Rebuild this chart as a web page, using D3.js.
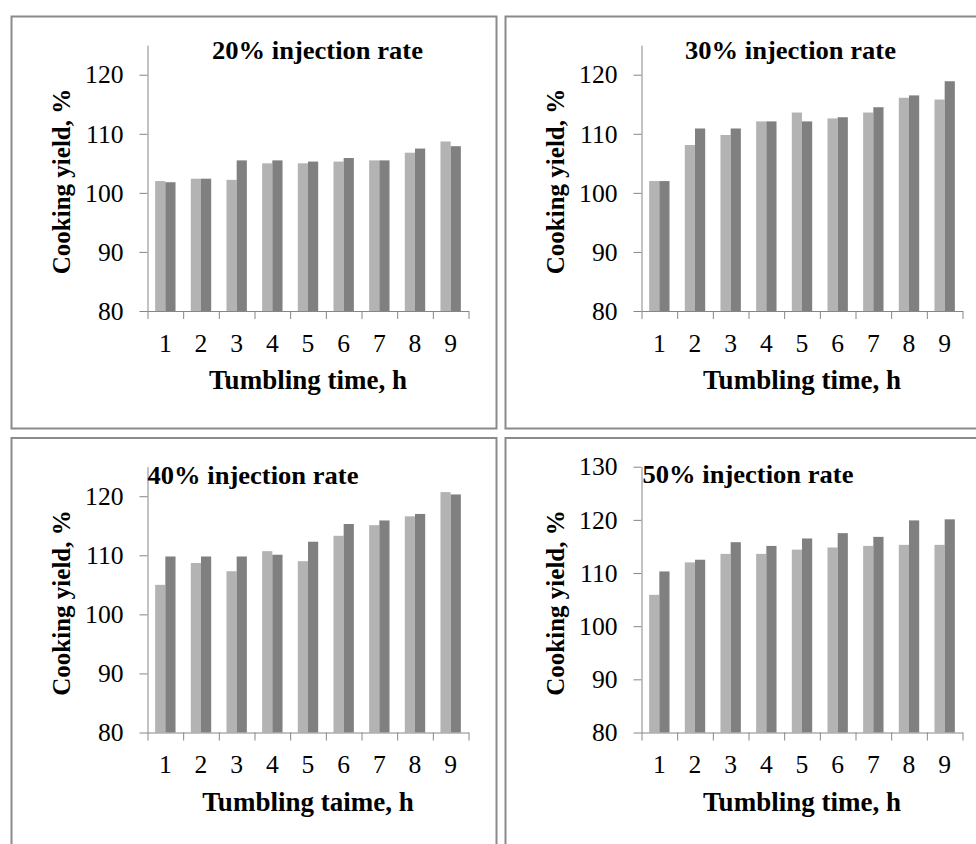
<!DOCTYPE html>
<html>
<head>
<meta charset="utf-8">
<script src="https://cdn.jsdelivr.net/npm/d3@7"></script>
<style>
  html, body { margin: 0; padding: 0; background: #ffffff; }
  svg { display: block; }
  text { font-family: "Liberation Serif", "Times New Roman", serif; fill: #000; }
</style>
</head>
<body>
<svg id="chart" width="976" height="844"></svg>
<script>
// ---------------- DATA ----------------
const categories = ["1", "2", "3", "4", "5", "6", "7", "8", "9"];
const seriesKeys = ["light", "dark"];

const panelTitles = ["20% injection rate", "30% injection rate", "40% injection rate", "50% injection rate"];
const xAxisTitles = ["Tumbling time, h", "Tumbling time, h", "Tumbling taime, h", "Tumbling time, h"];
const yAxisTitle = "Cooking yield, %";

const yMins = [80, 80, 80, 80];
const yMaxs = [125, 125, 125, 130];
const yTicks20 = [80, 90, 100, 110, 120];
const yTicks30 = [80, 90, 100, 110, 120];
const yTicks40 = [80, 90, 100, 110, 120];
const yTicks50 = [80, 90, 100, 110, 120, 130];

const light20 = [102.0, 102.4, 102.2, 105.0, 105.0, 105.3, 105.5, 106.8, 108.7];
const dark20  = [101.8, 102.4, 105.5, 105.5, 105.3, 105.9, 105.5, 107.5, 107.9];
const light30 = [102.0, 108.1, 109.8, 112.1, 113.6, 112.6, 113.6, 116.1, 115.8];
const dark30  = [102.0, 110.9, 110.9, 112.1, 112.1, 112.8, 114.5, 116.5, 118.9];
const light40 = [105.0, 108.7, 107.3, 110.7, 109.0, 113.3, 115.1, 116.6, 120.7];
const dark40  = [109.8, 109.8, 109.8, 110.1, 112.3, 115.3, 115.9, 117.0, 120.3];
const light50 = [105.9, 112.0, 113.6, 113.6, 114.4, 114.8, 115.1, 115.3, 115.3];
const dark50  = [110.3, 112.5, 115.8, 115.1, 116.5, 117.5, 116.8, 119.9, 120.1];

const panelData = [
  { title: panelTitles[0], xTitle: xAxisTitles[0], yMin: yMins[0], yMax: yMaxs[0], ticks: yTicks20, light: light20, dark: dark20 },
  { title: panelTitles[1], xTitle: xAxisTitles[1], yMin: yMins[1], yMax: yMaxs[1], ticks: yTicks30, light: light30, dark: dark30 },
  { title: panelTitles[2], xTitle: xAxisTitles[2], yMin: yMins[2], yMax: yMaxs[2], ticks: yTicks40, light: light40, dark: dark40 },
  { title: panelTitles[3], xTitle: xAxisTitles[3], yMin: yMins[3], yMax: yMaxs[3], ticks: yTicks50, light: light50, dark: dark50 }
];

// ---------------- LAYOUT ----------------
const panelBoxes = [
  { x: 11.5, y: 16.5, titleX: 306, titleAnchor: "middle", titleY: 42.5 },
  { x: 505.5, y: 16.5, titleX: 285, titleAnchor: "middle", titleY: 42.8 },
  { x: 11.5, y: 438, titleX: 136, titleAnchor: "start", titleY: 46.3 },
  { x: 505.5, y: 438, titleX: 137, titleAnchor: "start", titleY: 45.3 }
];
const panelW = 485, panelH = 412;
const plot = { left: 136, right: 457, bottom: 294.5, top: 28.7 };
const colors = { light: "#b3b3b3", dark: "#808080", axis: "#868686", border: "#8a8a8a" };

const svg = d3.select("#chart");

panelData.forEach((pd, i) => {
  const box = panelBoxes[i];
  const g = svg.append("g").attr("transform", `translate(${box.x},${box.y})`);

  g.append("rect")
    .attr("x", 0).attr("y", 0)
    .attr("width", panelW).attr("height", panelH)
    .attr("fill", "#fff")
    .attr("stroke", colors.border)
    .attr("stroke-width", 2);

  const x = d3.scaleBand().domain(categories).range([plot.left, plot.right]).paddingInner(0).paddingOuter(0);
  const xSub = d3.scaleBand().domain(seriesKeys).range([0, x.bandwidth()]).paddingInner(0).paddingOuter(0.75);
  const xBound = d3.scaleLinear().domain([0, categories.length]).range([plot.left, plot.right]);
  const y = d3.scaleLinear().domain([pd.yMin, pd.yMax]).range([plot.bottom, plot.top]);

  // bars
  seriesKeys.forEach(key => {
    g.append("g").selectAll("rect")
      .data(categories.map((c, j) => ({ c, v: pd[key][j] })))
      .join("rect")
      .attr("x", d => x(d.c) + xSub(key))
      .attr("width", xSub.bandwidth())
      .attr("y", d => y(d.v))
      .attr("height", d => y(pd.yMin) - y(d.v))
      .attr("fill", colors[key]);
  });

  // y axis
  const yAxis = g.append("g")
    .attr("transform", `translate(${plot.left},0)`)
    .call(d3.axisLeft(y).tickValues(pd.ticks).tickSize(8).tickSizeOuter(0).tickPadding(16).tickFormat(d3.format("d")));
  yAxis.selectAll("path, line").attr("stroke", colors.axis).attr("stroke-width", 1);
  yAxis.selectAll("text").attr("font-size", 25.6).attr("font-family", "Liberation Serif, Times New Roman, serif").attr("fill", "#000");

  // x axis boundary ticks
  const xTickAxis = g.append("g")
    .attr("transform", `translate(0,${plot.bottom})`)
    .call(d3.axisBottom(xBound).tickValues(d3.range(0, categories.length + 1)).tickSize(8).tickSizeOuter(0).tickFormat(""));
  xTickAxis.selectAll("path, line").attr("stroke", colors.axis).attr("stroke-width", 1);

  // x axis labels
  const xLab = g.append("g")
    .attr("transform", `translate(0,${plot.bottom})`)
    .call(d3.axisBottom(x).tickSize(0).tickSizeOuter(0).tickPadding(22.5));
  xLab.select(".domain").remove();
  xLab.selectAll("text").attr("font-size", 25.6).attr("font-family", "Liberation Serif, Times New Roman, serif").attr("fill", "#000");

  // titles
  g.append("text")
    .attr("x", box.titleX).attr("y", box.titleY)
    .attr("text-anchor", box.titleAnchor)
    .attr("font-size", 25).attr("font-weight", "bold")
    .attr("textLength", 211).attr("lengthAdjust", "spacingAndGlyphs")
    .text(pd.title);

  g.append("text")
    .attr("x", (plot.left + plot.right) / 2).attr("y", plot.bottom + 78)
    .attr("text-anchor", "middle")
    .attr("font-size", 27).attr("font-weight", "bold")
    .text(pd.xTitle);

  g.append("text")
    .attr("transform", `translate(${plot.left - 78},165) rotate(-90)`)
    .attr("text-anchor", "middle")
    .attr("font-size", 25).attr("font-weight", "bold")
    .text(yAxisTitle);
});
</script>
</body>
</html>
